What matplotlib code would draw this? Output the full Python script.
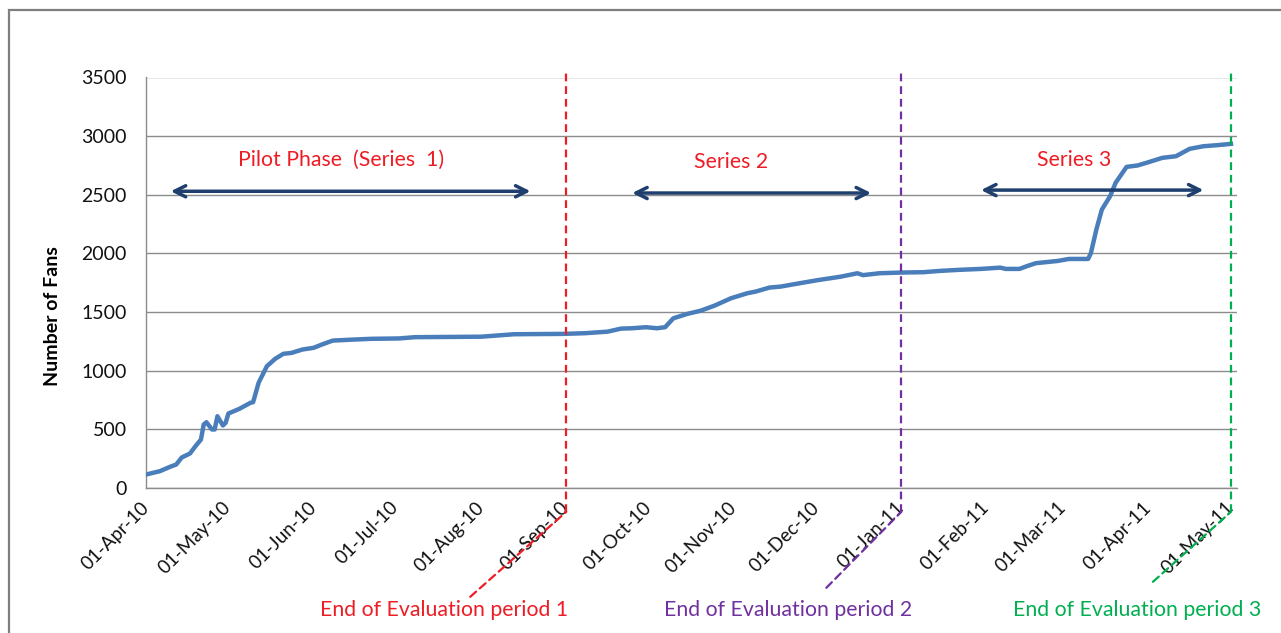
import matplotlib
matplotlib.use("Agg")
import pandas as pd
import matplotlib.pyplot as plt
import matplotlib.dates as mdates
import matplotlib.transforms as mtransforms
from matplotlib.patches import Rectangle

plt.rcParams['font.family'] = ['Lato', 'DejaVu Sans']

# fans per day
dates = ["2010-04-01", "2010-04-06", "2010-04-10", "2010-04-12", "2010-04-14", "2010-04-17",
         "2010-04-19", "2010-04-21", "2010-04-22", "2010-04-23", "2010-04-25", "2010-04-26",
         "2010-04-27", "2010-04-29", "2010-04-30", "2010-05-01", "2010-05-05", "2010-05-09",
         "2010-05-10", "2010-05-12", "2010-05-15", "2010-05-18", "2010-05-21", "2010-05-24",
         "2010-05-28", "2010-06-01", "2010-06-04", "2010-06-08", "2010-06-16", "2010-06-22",
         "2010-07-02", "2010-07-08", "2010-08-01", "2010-08-13", "2010-08-31", "2010-09-08",
         "2010-09-16", "2010-09-21", "2010-09-25", "2010-09-30", "2010-10-04", "2010-10-07",
         "2010-10-10", "2010-10-15", "2010-10-20", "2010-10-25", "2010-10-31", "2010-11-06",
         "2010-11-09", "2010-11-14", "2010-11-18", "2010-11-25", "2010-12-02", "2010-12-10",
         "2010-12-16", "2010-12-18", "2010-12-24", "2011-01-01", "2011-01-09", "2011-01-15",
         "2011-01-22", "2011-01-30", "2011-02-06", "2011-02-08", "2011-02-13", "2011-02-16",
         "2011-02-19", "2011-02-27", "2011-03-03", "2011-03-10", "2011-03-11", "2011-03-13",
         "2011-03-15", "2011-03-18", "2011-03-20", "2011-03-24", "2011-03-28", "2011-04-01",
         "2011-04-06", "2011-04-11", "2011-04-16", "2011-04-21", "2011-04-26", "2011-05-01"]
fans = [115, 143, 183, 200, 260, 294,
        356, 413, 541, 561, 499, 499,
        612, 533, 556, 635, 675, 726,
        732, 897, 1038, 1101, 1144, 1152,
        1181, 1195, 1223, 1257, 1266, 1272,
        1275, 1286, 1290, 1311, 1314, 1320,
        1333, 1359, 1362, 1371, 1362, 1371,
        1447, 1484, 1512, 1555, 1618, 1661,
        1675, 1709, 1717, 1746, 1774, 1802,
        1831, 1815, 1831, 1837, 1840, 1851,
        1860, 1868, 1879, 1868, 1868, 1894,
        1917, 1936, 1953, 1953, 2002, 2204,
        2374, 2488, 2602, 2738, 2750, 2778,
        2815, 2829, 2892, 2914, 2923, 2934]

series_labels = ["Pilot Phase  (Series  1)", "Series 2", "Series 3"]
series_label_x = ["2010-06-11", "2010-10-31", "2011-03-05"]
series_label_y = [2795, 2780, 2795]
arrow_start = ["2010-04-10", "2010-09-25", "2011-01-30"]
arrow_end = ["2010-08-19", "2010-12-21", "2011-04-21"]
arrow_y = [2530, 2515, 2540]

period_end = ["2010-09-01", "2011-01-01", "2011-05-01"]
period_labels = ["End of Evaluation period 1", "End of Evaluation period 2",
                 "End of Evaluation period 3"]
period_colors = ["#EE1C24", "#7030A0", "#00B050"]

W, H = 1281, 633
fig = plt.figure(figsize=(W / 100, H / 100), dpi=100)
ax = fig.add_axes([146 / W, (H - 488) / H, (1237 - 146) / W, (488 - 77.5) / H])

x = pd.to_datetime(dates)
ax.plot(x, fans, color="#4A7EBB", lw=3.2, solid_joinstyle="round", zorder=3)

start = mdates.date2num(pd.Timestamp("2010-04-01"))
ax.set_xlim(start, start + 397.2)
ax.set_ylim(0, 3500)
ax.set_yticks(range(0, 3501, 500))
ticks = pd.date_range("2010-04-01", "2011-05-01", freq="MS")
ax.set_xticks(ticks)
ax.set_xticklabels([t.strftime("%d-%b-%y") for t in ticks], rotation=45,
                   ha="right", va="center", rotation_mode="anchor")
ax.tick_params(axis="x", length=0, pad=12, labelsize=13.5, labelcolor="#111111")
ax.tick_params(axis="y", length=0, pad=14, labelsize=14, labelcolor="#111111")

ax.yaxis.grid(True, color="#8C8C8C", lw=1)
ax.set_axisbelow(True)
for s in ["top", "right"]:
    ax.spines[s].set_visible(False)
for s in ["left", "bottom"]:
    ax.spines[s].set_color("#8C8C8C")
    ax.spines[s].set_linewidth(1)

fig.text(52 / W, (H - 316) / H, "Number of Fans", rotation=90, ha="center",
         va="center", fontsize=14, fontweight="bold", color="#000000")

# series spans
for lab, lx, ly, a0, a1, ay in zip(series_labels, series_label_x, series_label_y,
                                   arrow_start, arrow_end, arrow_y):
    ax.text(pd.Timestamp(lx), ly, lab, ha="center", va="center", fontsize=15.3,
            color="#EE1C24")
    ax.annotate("", xy=(pd.Timestamp(a1), ay), xytext=(pd.Timestamp(a0), ay),
                arrowprops=dict(arrowstyle="<->,head_length=0.8,head_width=0.4",
                                color="#1F3F6E", lw=2.5, shrinkA=0, shrinkB=0))

# end of evaluation markers
trans = mtransforms.blended_transform_factory(ax.transData, ax.transAxes)
diag = [(-96, -85), (-75, -76), (-78, -70)]
text_x = [444, 788, 1137]
for d, lab, c, dd, tx in zip(period_end, period_labels, period_colors, diag, text_x):
    dn = mdates.date2num(pd.Timestamp(d))
    ax.plot([dn, dn], [-0.058, 1.011], transform=trans, clip_on=False, color=c,
            lw=1.6, ls=(0, (3.5, 2.2)), zorder=4)
    ax.annotate("", xy=(dn, -0.058), xycoords=trans, xytext=dd,
                textcoords="offset pixels",
                arrowprops=dict(arrowstyle="-", color=c, lw=1.6, ls=(0, (3.5, 2.2)),
                                shrinkA=0, shrinkB=0))
    fig.text(tx / W, (H - 610) / H, lab, ha="center", va="center", fontsize=15.3,
             color=c)

# outer chart frame
fig.add_artist(Rectangle((9 / W, -0.1), 1.2, (H - 10) / H + 0.1,
                         transform=fig.transFigure, fill=False, ec="#7F7F7F",
                         lw=1.6, clip_on=False))

fig.savefig("out.png", dpi=100)
